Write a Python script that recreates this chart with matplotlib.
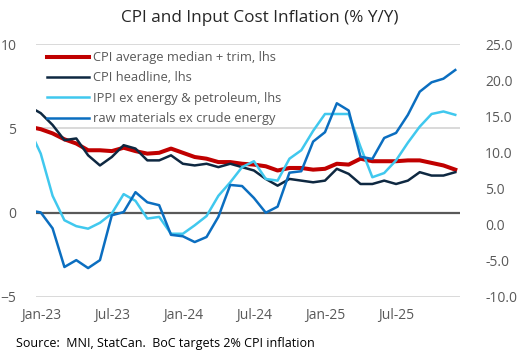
import matplotlib
matplotlib.use("Agg")
import matplotlib.pyplot as plt
import numpy as np

plt.rcParams['font.family'] = ['Open Sans', 'DejaVu Sans']

# meses: Dez-22 (-1) ate Dez-25 (35)
meses = np.arange(-1, 36)

cpi_media_trim = [5.1, 4.95, 4.7, 4.35, 4.1, 3.7, 3.7, 3.65, 3.85, 3.65, 3.5, 3.55, 3.8,
                  3.55, 3.3, 3.2, 3.0, 3.0, 2.9, 2.85, 2.75, 2.5, 2.65, 2.65, 2.55,
                  2.6, 2.9, 2.85, 3.2, 3.05, 3.05, 3.05, 3.1, 3.1, 2.95, 2.8, 2.55]

cpi_headline = [6.3, 5.9, 5.2, 4.3, 4.4, 3.4, 2.8, 3.3, 4.0, 3.8, 3.1, 3.1, 3.4,
                2.9, 2.8, 2.9, 2.7, 2.9, 2.7, 2.5, 2.0, 1.6, 2.0, 1.9, 1.8,
                1.9, 2.6, 2.3, 1.7, 1.7, 1.9, 1.7, 1.9, 2.4, 2.2, 2.2, 2.4]

ippi_ex_energia = [5.0, 3.5, 1.0, -0.45, -0.8, -0.95, -0.6, -0.05, 1.1, 0.7, -0.35, -0.25, -1.25,
                   -1.25, -0.75, -0.2, 1.0, 1.8, 2.7, 3.05, 2.0, 1.9, 3.2, 3.7, 4.85,
                   5.85, 5.85, 5.85, 3.9, 2.1, 2.35, 3.1, 4.15, 5.1, 5.85, 6.0, 5.8]

materias_primas = [2.0, 1.7, -0.5, -5.85, -4.9, -6.0, -4.9, 1.3, 1.75, 4.5, 3.1, 2.7, -1.4,
                   -1.6, -2.4, -1.7, 1.1, 5.5, 5.35, 3.7, 1.66, 2.5, 7.2, 7.4, 11.5,
                   12.8, 16.8, 15.8, 9.4, 9.1, 12.0, 12.7, 15.2, 18.4, 19.7, 20.2, 21.4]

posicoes_x = [0, 6, 12, 18, 24, 30]
rotulos_x = ["Jan-23", "Jul-23", "Jan-24", "Jul-24", "Jan-25", "Jul-25"]

cinza = "#595959"

fig = plt.figure(figsize=(5.2, 3.59), dpi=100)
ax = fig.add_subplot(111)
fig.subplots_adjust(left=36/520, right=460/520, top=1-44/359, bottom=1-297/359)
ax2 = ax.twinx()

# grade e linha do zero (eixo esquerdo)
for v in [10, 5, -5]:
    ax.axhline(v, color="#D9D9D9", lw=1.4, zorder=0)
ax.axhline(0, color=cinza, lw=1.6, zorder=1)

l1, = ax.plot(meses, cpi_media_trim, color="#C00000", lw=2.9, label="CPI average median + trim, lhs", zorder=2)
l2, = ax.plot(meses, cpi_headline, color="#0E2841", lw=1.8, label="CPI headline, lhs", zorder=3)
l3, = ax.plot(meses, ippi_ex_energia, color="#40C8EE", lw=1.8, label="IPPI ex energy & petroleum, lhs", zorder=4)
l4, = ax2.plot(meses, materias_primas, color="#0B6EC0", lw=1.8, label="raw materials ex crude energy")

ax.set_xlim(-0.4, 35.4)
ax.set_ylim(-5, 10)
ax2.set_ylim(-10, 25)
ax.set_yticks([-5, 0, 5, 10])
ax2.set_yticks(np.arange(-10, 26, 5))
ax2.set_yticklabels([f"{v:.1f}" for v in np.arange(-10, 26, 5)])
ax.set_xticks(posicoes_x)
ax.set_xticklabels(rotulos_x)

for a in [ax, ax2]:
    for s in a.spines.values():
        s.set_visible(False)
    a.tick_params(length=0, labelsize=10, colors=cinza)
ax.tick_params(axis="y", pad=14)
ax2.tick_params(axis="y", pad=18)
ax.tick_params(axis="x", pad=8)

ax2.legend(handles=[l1, l2, l3, l4], loc="upper left", bbox_to_anchor=(0.01, 1.0),
           frameon=False, fontsize=9.3, handlelength=3.2, handletextpad=0.3,
           labelspacing=0.57, borderaxespad=0.15, labelcolor=cinza)

fig.text(0.5, 0.95, "CPI and Input Cost Inflation (% Y/Y)", ha="center", va="center",
         fontsize=12.3, color="#262626")
fig.text(16/520, 1-343/359, "Source:  MNI, StatCan.  BoC targets 2% CPI inflation",
         ha="left", va="center", fontsize=9, color="black")

fig.savefig("out.png", dpi=100)
